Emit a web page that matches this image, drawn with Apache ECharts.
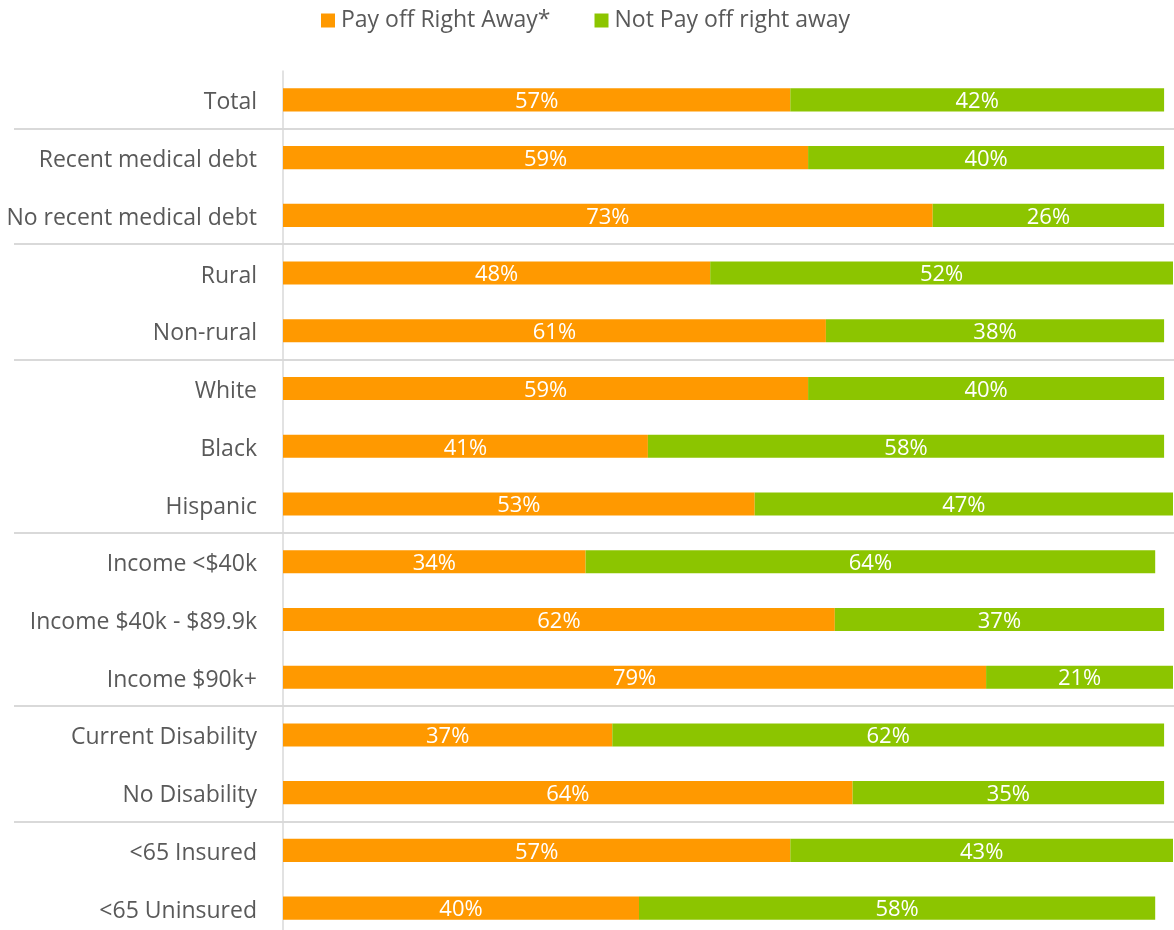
<!DOCTYPE html>
<html>
<head>
<meta charset="utf-8">
<script src="https://cdn.jsdelivr.net/npm/echarts@6/dist/echarts.min.js"></script>
<style>html,body{margin:0;padding:0;background:#fff;overflow:hidden;}#c{width:1174px;height:945px;}</style>
</head>
<body>
<div id="c"></div>
<script>
const categories = ["Total","Recent medical debt","No recent medical debt","Rural","Non-rural","White","Black","Hispanic","Income <$40k","Income $40k - $89.9k","Income $90k+","Current Disability","No Disability","<65 Insured","<65 Uninsured"];
const payOff = [57,59,73,48,61,59,41,53,34,62,79,37,64,57,40];
const notPayOff = [42,40,26,52,38,40,58,47,64,37,21,62,35,43,58];
const seriesNames = ["Pay off Right Away*","Not Pay off right away"];
const groupStarts = [1,3,5,8,11,13];

const font = "'Open Sans', 'Noto Sans', sans-serif";
const chart = echarts.init(document.getElementById('c'), null, {renderer:'canvas'});
const lbl = {show:true, position:'inside', color:'#fff', fontSize:22, fontFamily:font, offset:[0,2], formatter:p=>p.value+'%'};
chart.setOption({
  animation:false,
  textStyle:{fontFamily:font},
  legend:{
    top:4, left:316, itemWidth:14, itemHeight:14, itemGap:44, icon:'rect',
    textStyle:{color:'#595959', fontSize:23, fontFamily:font, padding:[0,0,0,1]},
    data:seriesNames
  },
  grid:[
    {left:283, top:71, width:890, height:866, containLabel:false},
    {left:14, top:71, width:1160, height:866, containLabel:false}
  ],
  xAxis:[
    {gridIndex:0, type:'value', min:0, max:100, show:false},
    {gridIndex:1, type:'value', min:0, max:100, show:false}
  ],
  yAxis:[
    {gridIndex:0, type:'category', inverse:true, data:categories,
     axisLine:{show:true, lineStyle:{color:'#d9d9d9', width:1.5}},
     axisTick:{show:false},
     axisLabel:{color:'#595959', fontSize:23, fontFamily:font, margin:26,
       formatter:v=>'{a|'+v+'}',
       rich:{a:{color:'#595959', fontSize:23, fontFamily:font, padding:[6,0,0,0]}}},
     splitLine:{show:false}},
    {gridIndex:1, type:'category', inverse:true, data:categories,
     axisLine:{show:false}, axisTick:{show:false}, axisLabel:{show:false},
     splitLine:{show:true, lineStyle:{color:'#cccccc', width:1.5},
       interval:(i)=>groupStarts.indexOf(i)>=0}}
  ],
  series:[
    {name:seriesNames[0], type:'bar', stack:'a', xAxisIndex:0, yAxisIndex:0, data:payOff,
     barWidth:'40%', itemStyle:{color:'#FF9900'}, label:lbl},
    {name:seriesNames[1], type:'bar', stack:'a', xAxisIndex:0, yAxisIndex:0, data:notPayOff,
     barWidth:'40%', itemStyle:{color:'#8CC500'}, label:lbl}
  ]
});
</script>
</body>
</html>
